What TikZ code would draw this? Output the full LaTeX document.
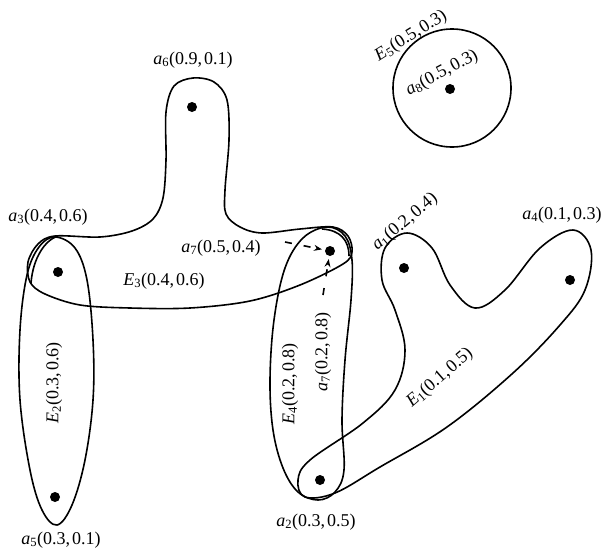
\documentclass[tikz,border=0pt]{standalone}
\usepackage{fontspec}
\setmainfont{Liberation Serif}
\usetikzlibrary{arrows.meta}
\newcommand\mylbl[3]{\textit{#1}\textsubscript{#2}(#3)}
\begin{document}
\begin{tikzpicture}[x=1pt,y=-1pt,
  every node/.style={font=\fontsize{18}{20}\selectfont},
  dot/.style={circle,fill=black,inner sep=0pt,minimum size=10pt},
  hedge/.style={line width=1.6pt},
  lab/.style={inner sep=0pt},
  dasharrow/.style={line width=1.6pt,dash pattern=on 7pt off 12pt,-{Stealth[length=8pt,width=6pt]},shorten >=3pt}]
\useasboundingbox (0,0) rectangle (604,554);

% vertices
\node[dot] (a1) at (404,268) {};
\node[dot] (a2) at (320,480) {};
\node[dot] (a3) at (58,272) {};
\node[dot] (a4) at (570,280) {};
\node[dot] (a5) at (55,497) {};
\node[dot] (a6) at (192,107) {};
\node[dot] (a7) at (330,251) {};
\node[dot] (a8) at (450,89) {};

% hyperedges
\draw[hedge] (452,88) circle (59pt);
\draw[hedge] plot[smooth cycle,tension=0.6] coordinates {
  (55,237) (75,248) (87,280) (93,340) (93,400) (85,460) (72,505) (57,525)
  (42,510) (30,470) (20,400) (20,330) (27,275) (39,247)};
\draw[hedge] plot[smooth cycle,tension=0.55] coordinates {
  (55,236) (100,237) (132,231) (153,219) (163,198) (166,160) (166,112)
  (174,86) (193,78) (214,82) (227,100) (229,140) (225,190) (226,214)
  (240,227) (262,233) (300,229) (333,227) (348,236) (352,252) (343,264)
  (300,285) (250,301) (190,308) (130,308) (80,305) (45,294) (30,282)
  (28,262) (38,244)};
\draw[hedge] (58,236) .. controls (45,240) and (33,258) .. (31,283);
\draw[hedge] (322,229) .. controls (340,230) and (349,240) .. (349,256);
\draw[hedge] plot[smooth cycle,tension=0.6] coordinates {
  (327,227) (345,236) (352,260) (351,300) (345,360) (342,420) (344,470)
  (335,492) (318,500) (298,492) (283,468) (273,430) (270,380) (274,320)
  (285,268) (303,238)};
\draw[hedge] plot[smooth cycle,tension=0.6] coordinates {
  (407,233) (432,248) (450,285) (475,308) (505,290) (540,248) (573,230)
  (591,250) (585,290) (560,325) (513,373) (447,427) (380,467) (335,493)
  (305,497) (298,480) (310,460) (363,423) (395,390) (405,350) (395,310)
  (382,280) (385,248)};

% labels
\node[lab] (l6) at (193,60) {\mylbl{a}{6}{0.9,\kern2pt0.1}};
\node[lab] (l3) at (48,217) {\mylbl{a}{3}{0.4,\kern2pt0.6}};
\node[lab] (l7a) at (221,248) {\mylbl{a}{7}{0.5,\kern2pt0.4}};
\node[lab] (lE3) at (164,281) {\mylbl{E}{3}{0.4,\kern2pt0.6}};
\node[lab] (l5) at (61,540) {\mylbl{a}{5}{0.3,\kern2pt0.1}};
\node[lab] (l2) at (316,522) {\mylbl{a}{2}{0.3,\kern2pt0.5}};
\node[lab] (l4) at (562,215) {\mylbl{a}{4}{0.1,\kern2pt0.3}};
\node[lab,rotate=32] (lE5) at (411,36) {\mylbl{E}{5}{0.5,\kern2pt0.3}};
\node[lab,rotate=28] (l8) at (442,73) {\mylbl{a}{8}{0.5,\kern2pt0.3}};
\node[lab,rotate=90] (lE2) at (54,383) {\mylbl{E}{2}{0.3,\kern2pt0.6}};
\node[lab,rotate=90] (lE4) at (290,384) {\mylbl{E}{4}{0.2,\kern2pt0.8}};
\node[lab,rotate=90] (l7b) at (323,352) {\mylbl{a}{7}{0.2,\kern2pt0.8}};
\node[lab,rotate=41] (lE1) at (440,378) {\mylbl{E}{1}{0.1,\kern2pt0.5}};
\node[lab,rotate=40] (l1) at (405,222) {\mylbl{a}{1}{0.2,\kern2pt0.4}};

% dashed arrows to a7
\coordinate (s1) at (285,242);
\coordinate (s2) at (323,295);
\draw[dasharrow] (s1) -- (a7);
\draw[dasharrow] (s2) -- (a7);
\end{tikzpicture}
\end{document}
